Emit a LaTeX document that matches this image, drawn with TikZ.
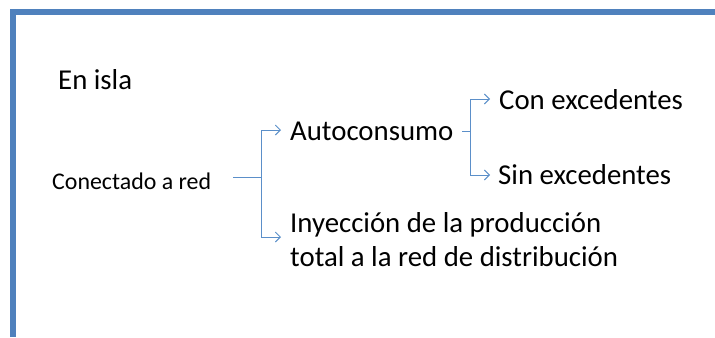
\documentclass[tikz,border=0pt]{standalone}
\usepackage{fontspec}
\setmainfont{Carlito}
\usetikzlibrary{arrows.meta}
\definecolor{frameblue}{RGB}{79,129,189}
\definecolor{linkblue}{RGB}{91,143,201}
\begin{document}
\begin{tikzpicture}[x=1bp,y=-1bp,
  big/.style={font=\fontsize{28.8bp}{33.4bp}\selectfont, inner sep=0pt, anchor=base west, align=left},
  small/.style={font=\fontsize{23.9bp}{28bp}\selectfont, inner sep=0pt, anchor=base west},
  link/.style={draw=linkblue, line width=0.9bp},
  tip/.style={link, -{Straight Barb[length=5bp,width=10bp,line width=0.9bp]}}]
\useasboundingbox (0,0) rectangle (715,337);
\draw[frameblue, line width=5.5bp] (13,337) -- (13,12) -- (715,12);
\node[big] (isla) at (58,89) {En isla};
\node[small] (red) at (52,189) {Conectado a red};
\node[big] (auto) at (290,140.5) {Autoconsumo};
\node[big] (con) at (499,109) {Con excedentes};
\node[big] (sin) at (498,184) {Sin excedentes};
\node[big] (iny) at (290,266) {Inyección de la producción\\total a la red de distribución};
\coordinate (b1) at (261,177);
\coordinate (b2) at (470,131);
\draw[link] (233,177) -- (b1);
\draw[tip] (b1) |- (281,130);
\draw[tip] (b1) |- (281,237);
\draw[link] (462,131) -- (b2);
\draw[tip] (b2) |- (490,99);
\draw[tip] (b2) |- (490,175);
\end{tikzpicture}
\end{document}
